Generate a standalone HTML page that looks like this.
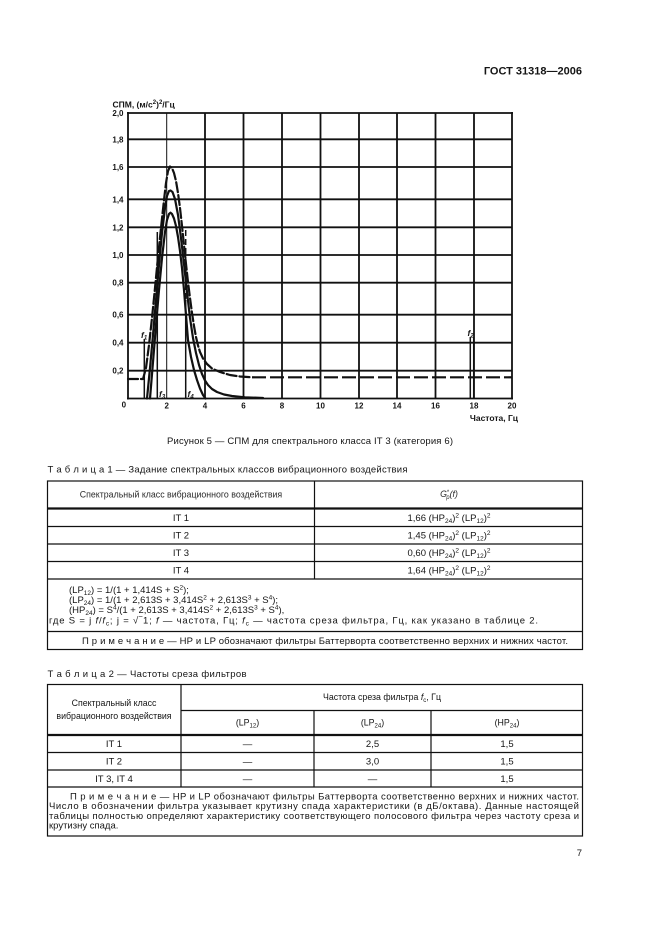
<!DOCTYPE html>
<html><head><meta charset="utf-8">
<style>
html,body{margin:0;padding:0;background:#fff;}
body{width:661px;height:936px;overflow:hidden;}
svg{display:block;}
text{font-family:"Liberation Sans",Arial,sans-serif;fill:#151515;}
.b{font-weight:bold;}
.t{font-size:9.5px;}
.h{font-size:8.8px;fill:#2a2a2a;}
.ax{font-size:8px;font-weight:bold;}
</style></head>
<body>
<svg width="661" height="936" viewBox="0 0 661 936" xmlns="http://www.w3.org/2000/svg">
<rect width="661" height="936" fill="#fff"/>

<!-- header -->
<text x="582" y="74.5" text-anchor="end" class="b" font-size="11">ГОСТ 31318—2006</text>

<!-- chart grid -->
<g stroke="#111" stroke-width="1.8" fill="none">
  <line x1="127" y1="113" x2="513" y2="113"/>
  <line x1="128" y1="139.3" x2="512" y2="139.3"/>
  <line x1="128" y1="167" x2="512" y2="167"/>
  <line x1="128" y1="199.3" x2="512" y2="199.3"/>
  <line x1="128" y1="227.3" x2="512" y2="227.3"/>
  <line x1="128" y1="255" x2="512" y2="255"/>
  <line x1="128" y1="282.7" x2="512" y2="282.7"/>
  <line x1="128" y1="314.7" x2="512" y2="314.7"/>
  <line x1="128" y1="342.7" x2="512" y2="342.7"/>
  <line x1="128" y1="370.7" x2="512" y2="370.7"/>
  <line x1="127" y1="398.5" x2="513" y2="398.5"/>
  <line x1="128" y1="112" x2="128" y2="399.5"/>
  <line x1="205" y1="113" x2="205" y2="398.5"/>
  <line x1="243.5" y1="113" x2="243.5" y2="398.5"/>
  <line x1="282" y1="113" x2="282" y2="398.5"/>
  <line x1="320.5" y1="113" x2="320.5" y2="398.5"/>
  <line x1="359" y1="113" x2="359" y2="398.5"/>
  <line x1="397" y1="113" x2="397" y2="398.5"/>
  <line x1="435.5" y1="113" x2="435.5" y2="398.5"/>
  <line x1="474" y1="113" x2="474" y2="398.5"/>
  <line x1="512" y1="112" x2="512" y2="399.5"/>
  <line x1="166.7" y1="113" x2="166.7" y2="398.5" stroke-width="1"/>
</g>

<!-- curves -->
<g fill="none" stroke="#111" stroke-width="2.2" stroke-linejoin="round" stroke-linecap="round">
  <polyline stroke-dasharray="10 3" points="128,379 143,379 146,368 149,345 152,318 155,288 158,257 161,228 164,200 166,183 168,171 170,166.5 172,168 174,173 176,181 178,193 180,208 182,226 184,245 186,264 188,282 190,298 192,313 194,326 196,337 198,345.5 200,352 203,358.5 207,364 212,368.5 220,372 230,375 240,376.5 252,377.3"/>
  <line x1="252" y1="377.3" x2="512" y2="377.3" stroke-dasharray="14 4" stroke-linecap="butt"/>
  <polyline points="147,398.5 150,368 153,335 156,300 159,265 162,233 165,208 167,196 169,191 170.5,190.5 172.5,192 175,199 178,215 181,238 184,264 187,292 190,318 193,338 196,353 199,365 202,374 205,380.5 208,385 212,389 217,392 224,394.5 232,396 245,397.3 263,398"/>
  <polyline points="150,398.5 153,362 156,325 159,290 162,258 165,232 167,220 169,214 170.5,212.7 172,214 174,218.5 176,226 178,237 180,251 182,268 184,290 186,315 188,340 191,357 194,370 197,380 200,388.5 203,395 205.5,398.5"/>
</g>

<!-- marker lines -->
<g stroke="#111" stroke-width="1.5" fill="none">
  <line x1="144.3" y1="339" x2="144.3" y2="398.5"/>
  <line x1="157.3" y1="232" x2="157.3" y2="398.5"/>
  <line x1="185.7" y1="230" x2="185.7" y2="300" stroke-dasharray="6 3"/>
  <line x1="185.7" y1="300" x2="185.7" y2="398.5"/>
  <line x1="470.3" y1="337" x2="470.3" y2="398.5"/>
  <line x1="473.7" y1="337" x2="473.7" y2="398.5"/>
</g>
<g class="ax" font-style="italic">
  <text x="141" y="338" font-size="8.5" font-weight="bold">f<tspan font-size="6" dy="1.5">1</tspan></text>
  <text x="159" y="397" font-size="8.5" font-weight="bold">f<tspan font-size="6" dy="1.5">3</tspan></text>
  <text x="187.5" y="397" font-size="8.5" font-weight="bold">f<tspan font-size="6" dy="1.5">4</tspan></text>
  <text x="467.5" y="336" font-size="8.5" font-weight="bold">f<tspan font-size="6" dy="1.5">2</tspan></text>
</g>

<!-- axis labels -->
<g class="ax" text-anchor="end">
  <text x="123.5" y="116">2,0</text>
  <text x="123.5" y="142.3">1,8</text>
  <text x="123.5" y="170">1,6</text>
  <text x="123.5" y="202.3">1,4</text>
  <text x="123.5" y="230.3">1,2</text>
  <text x="123.5" y="258">1,0</text>
  <text x="123.5" y="285.7">0,8</text>
  <text x="123.5" y="317.7">0,6</text>
  <text x="123.5" y="345.7">0,4</text>
  <text x="123.5" y="373.7">0,2</text>
</g>
<g class="ax" text-anchor="middle">
  <text x="123.8" y="407.5">0</text>
  <text x="166.7" y="408.5">2</text>
  <text x="205" y="408.5">4</text>
  <text x="243.5" y="408.5">6</text>
  <text x="282" y="408.5">8</text>
  <text x="320.5" y="408.5">10</text>
  <text x="359" y="408.5">12</text>
  <text x="397" y="408.5">14</text>
  <text x="435.5" y="408.5">16</text>
  <text x="474" y="408.5">18</text>
  <text x="512" y="408.5">20</text>
</g>
<text x="518" y="421" text-anchor="end" class="b" font-size="8.5">Частота, Гц</text>
<text x="112.5" y="107.5" class="b" font-size="8.5">СПМ, (м/с<tspan font-size="6" dy="-3.5">2</tspan><tspan dy="3.5">)</tspan><tspan font-size="6" dy="-3.5">2</tspan><tspan dy="3.5">/Гц</tspan></text>

<!-- caption -->
<text x="310" y="444" text-anchor="middle" class="t" textLength="286" lengthAdjust="spacing">Рисунок 5 — СПМ для спектрального класса IT 3 (категория 6)</text>

<!-- Table 1 title -->
<text x="47.5" y="472.5" class="t" textLength="360" lengthAdjust="spacing">Т а б л и ц а  1 — Задание спектральных классов вибрационного воздействия</text>

<!-- Table 1 lines -->
<g stroke="#111" stroke-width="1.2" fill="none">
  <rect x="47.5" y="481" width="535" height="168.5"/>
  <line x1="47.5" y1="508.5" x2="582.5" y2="508.5" stroke-width="2.2"/>
  <line x1="47.5" y1="526.5" x2="582.5" y2="526.5"/>
  <line x1="47.5" y1="544" x2="582.5" y2="544"/>
  <line x1="47.5" y1="561.5" x2="582.5" y2="561.5"/>
  <line x1="47.5" y1="579" x2="582.5" y2="579"/>
  <line x1="47.5" y1="631.5" x2="582.5" y2="631.5"/>
  <line x1="314.5" y1="481" x2="314.5" y2="579"/>
</g>
<text x="181" y="497.5" text-anchor="middle" class="h">Спектральный класс вибрационного воздействия</text>
<text x="449" y="497" text-anchor="middle" class="h"><tspan font-style="italic">G</tspan><tspan font-size="6" dy="-3">*</tspan><tspan font-size="6" font-style="italic" dx="-3" dy="5">p</tspan><tspan dy="-2" font-style="italic">(f)</tspan></text>

<g class="t" text-anchor="middle">
  <text x="181" y="521">IT 1</text>
  <text x="181" y="538.7">IT 2</text>
  <text x="181" y="556.2">IT 3</text>
  <text x="181" y="573.7">IT 4</text>
  <text x="449" y="521">1,66 (HP<tspan font-size="6.5" dy="2">24</tspan><tspan dy="-2">)</tspan><tspan font-size="6.5" dy="-3.5">2</tspan><tspan dy="3.5"> (LP</tspan><tspan font-size="6.5" dy="2">12</tspan><tspan dy="-2">)</tspan><tspan font-size="6.5" dy="-3.5">2</tspan></text>
  <text x="449" y="538.7">1,45 (HP<tspan font-size="6.5" dy="2">24</tspan><tspan dy="-2">)</tspan><tspan font-size="6.5" dy="-3.5">2</tspan><tspan dy="3.5"> (LP</tspan><tspan font-size="6.5" dy="2">12</tspan><tspan dy="-2">)</tspan><tspan font-size="6.5" dy="-3.5">2</tspan></text>
  <text x="449" y="556.2">0,60 (HP<tspan font-size="6.5" dy="2">24</tspan><tspan dy="-2">)</tspan><tspan font-size="6.5" dy="-3.5">2</tspan><tspan dy="3.5"> (LP</tspan><tspan font-size="6.5" dy="2">12</tspan><tspan dy="-2">)</tspan><tspan font-size="6.5" dy="-3.5">2</tspan></text>
  <text x="449" y="573.7">1,64 (HP<tspan font-size="6.5" dy="2">24</tspan><tspan dy="-2">)</tspan><tspan font-size="6.5" dy="-3.5">2</tspan><tspan dy="3.5"> (LP</tspan><tspan font-size="6.5" dy="2">12</tspan><tspan dy="-2">)</tspan><tspan font-size="6.5" dy="-3.5">2</tspan></text>
</g>

<g class="t">
  <text x="69" y="593">(LP<tspan font-size="6.5" dy="2">12</tspan><tspan dy="-2">) = 1/(1 + 1,414S + S</tspan><tspan font-size="6.5" dy="-3.5">2</tspan><tspan dy="3.5">);</tspan></text>
  <text x="69" y="603">(LP<tspan font-size="6.5" dy="2">24</tspan><tspan dy="-2">) = 1/(1 + 2,613S + 3,414S</tspan><tspan font-size="6.5" dy="-3.5">2</tspan><tspan dy="3.5"> + 2,613S</tspan><tspan font-size="6.5" dy="-3.5">3</tspan><tspan dy="3.5"> + S</tspan><tspan font-size="6.5" dy="-3.5">4</tspan><tspan dy="3.5">);</tspan></text>
  <text x="69" y="613">(HP<tspan font-size="6.5" dy="2">24</tspan><tspan dy="-2">) = S</tspan><tspan font-size="6.5" dy="-3.5">4</tspan><tspan dy="3.5">/(1 + 2,613S + 3,414S</tspan><tspan font-size="6.5" dy="-3.5">2</tspan><tspan dy="3.5"> + 2,613S</tspan><tspan font-size="6.5" dy="-3.5">3</tspan><tspan dy="3.5"> + S</tspan><tspan font-size="6.5" dy="-3.5">4</tspan><tspan dy="3.5">),</tspan></text>
  <text x="49" y="623.5" textLength="489" lengthAdjust="spacing">где S = j <tspan font-style="italic">f</tspan>/<tspan font-style="italic">f</tspan><tspan font-size="6.5" dy="2">c</tspan><tspan dy="-2">; j = √‾1; </tspan><tspan font-style="italic">f</tspan> — частота, Гц; <tspan font-style="italic">f</tspan><tspan font-size="6.5" dy="2">c</tspan><tspan dy="-2"> — частота среза фильтра, Гц, как указано в таблице 2.</tspan></text>
  <text x="82" y="644" textLength="486" lengthAdjust="spacing">П р и м е ч а н и е — HP и LP обозначают фильтры Баттерворта соответственно верхних и нижних частот.</text>
</g>

<!-- Table 2 title -->
<text x="47.5" y="676.8" class="t" textLength="199" lengthAdjust="spacing">Т а б л и ц а  2 — Частоты среза фильтров</text>

<!-- Table 2 lines -->
<g stroke="#111" stroke-width="1.2" fill="none">
  <rect x="47.5" y="684.5" width="535" height="151.5"/>
  <line x1="181" y1="710.5" x2="582.5" y2="710.5"/>
  <line x1="47.5" y1="735" x2="582.5" y2="735" stroke-width="2.2"/>
  <line x1="47.5" y1="752.5" x2="582.5" y2="752.5"/>
  <line x1="47.5" y1="770" x2="582.5" y2="770"/>
  <line x1="47.5" y1="787" x2="582.5" y2="787"/>
  <line x1="181" y1="684.5" x2="181" y2="787"/>
  <line x1="314" y1="710.5" x2="314" y2="787"/>
  <line x1="431" y1="710.5" x2="431" y2="787"/>
</g>
<g class="h" text-anchor="middle">
  <text x="114" y="706">Спектральный класс</text>
  <text x="114" y="719">вибрационного воздействия</text>
  <text x="382" y="700">Частота среза фильтра <tspan font-style="italic">f</tspan><tspan font-size="6" dy="2">c</tspan><tspan dy="-2">, Гц</tspan></text>
  <text x="247.5" y="725.5">(LP<tspan font-size="6" dy="2">12</tspan><tspan dy="-2">)</tspan></text>
  <text x="372.5" y="725.5">(LP<tspan font-size="6" dy="2">24</tspan><tspan dy="-2">)</tspan></text>
  <text x="507" y="725.5">(HP<tspan font-size="6" dy="2">24</tspan><tspan dy="-2">)</tspan></text>
</g>
<g class="t" text-anchor="middle">
  <text x="114" y="747.2">IT 1</text>
  <text x="247.5" y="747.2">—</text>
  <text x="372.5" y="747.2">2,5</text>
  <text x="507" y="747.2">1,5</text>
  <text x="114" y="764.7">IT 2</text>
  <text x="247.5" y="764.7">—</text>
  <text x="372.5" y="764.7">3,0</text>
  <text x="507" y="764.7">1,5</text>
  <text x="114" y="782">IT 3, IT 4</text>
  <text x="247.5" y="782">—</text>
  <text x="372.5" y="782">—</text>
  <text x="507" y="782">1,5</text>
</g>
<g class="t">
  <text x="70" y="799.5" textLength="509" lengthAdjust="spacing">П р и м е ч а н и е — HP и LP обозначают фильтры Баттерворта соответственно верхних и нижних частот.</text>
  <text x="49" y="809.2" textLength="530" lengthAdjust="spacing">Число в обозначении фильтра указывает крутизну спада характеристики (в дБ/октава). Данные настоящей</text>
  <text x="49" y="818.9" textLength="530" lengthAdjust="spacing">таблицы полностью определяют характеристику соответствующего полосового фильтра через частоту среза и</text>
  <text x="49" y="828.6">крутизну спада.</text>
</g>

<!-- page number -->
<text x="582" y="856" text-anchor="end" font-size="9.5">7</text>
</svg>
</body></html>
